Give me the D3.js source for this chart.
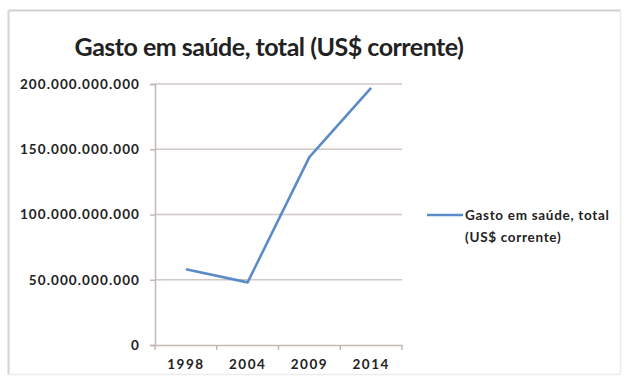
<!DOCTYPE html>
<html>
<head>
<meta charset="utf-8">
<script src="https://cdn.jsdelivr.net/npm/d3@7/dist/d3.min.js"></script>
<style>
  html, body { margin: 0; padding: 0; background: #fff; }
  svg { display: block; }
  text { font-family: Lato, "Open Sans", sans-serif; fill: #222; }
</style>
</head>
<body>
<svg id="chart" width="634" height="381"></svg>
<script>
// Health expenditure, total (current US$)
const years = ["1998", "2004", "2009", "2014"];
const spending = [58e9, 48e9, 144e9, 197e9];
const yTicks = [0, 50e9, 100e9, 150e9, 200e9];
const seriesName = ["Gasto em saúde, total", "(US$ corrente)"];
const title = "Gasto em saúde, total (US$ corrente)";

const svg = d3.select("#chart");
const plot = { left: 155, right: 402, top: 84, bottom: 345 };

// chart frame: stronger top/left edges, faint right/bottom edges
const frame = { x0: 8.5, y0: 10.5, x1: 620.5, y1: 374.5 };
svg.append("line").attr("x1", frame.x0).attr("x2", frame.x1).attr("y1", frame.y0).attr("y2", frame.y0)
  .attr("stroke", "#d3cfcd").attr("stroke-width", 2);
svg.append("line").attr("x1", frame.x0).attr("x2", frame.x0).attr("y1", frame.y0).attr("y2", frame.y1)
  .attr("stroke", "#d8d4d2").attr("stroke-width", 2);
svg.append("line").attr("x1", frame.x1).attr("x2", frame.x1).attr("y1", frame.y0).attr("y2", frame.y1)
  .attr("stroke", "#eeeceb").attr("stroke-width", 1.5);
svg.append("line").attr("x1", frame.x0).attr("x2", frame.x1).attr("y1", frame.y1).attr("y2", frame.y1)
  .attr("stroke", "#eeeceb").attr("stroke-width", 1.5);

const x = d3.scaleBand().domain(years).range([plot.left, plot.right]);
const y = d3.scaleLinear().domain([0, 200e9]).range([plot.bottom, plot.top]);

const fmt = v => d3.format(",")(v).replace(/,/g, ".");

// gridlines
svg.append("g")
  .selectAll("line")
  .data(yTicks.filter(d => d > 0))
  .join("line")
  .attr("x1", plot.left).attr("x2", plot.right)
  .attr("y1", d => y(d)).attr("y2", d => y(d))
  .attr("stroke", "#cfc8c4").attr("stroke-width", 1.5);

// y axis
const yAxis = svg.append("g")
  .attr("transform", `translate(${plot.left},0)`)
  .call(d3.axisLeft(y).tickValues(yTicks).tickFormat(fmt).tickSize(5).tickPadding(10));
yAxis.select(".domain").attr("stroke", "#c2b9b4").attr("stroke-width", 1.5);
yAxis.selectAll(".tick line").attr("stroke", "#c2b9b4").attr("stroke-width", 1.5);
yAxis.selectAll(".tick text")
  .style("font-family", "Lato, sans-serif")
  .style("font-size", "13.5px").style("font-weight", "700")
  .style("letter-spacing", "1.1px")
  .attr("fill", "#333");

// x axis with ticks at category boundaries
const xAxis = svg.append("g")
  .attr("transform", `translate(0,${plot.bottom})`)
  .call(d3.axisBottom(x).tickSize(0).tickPadding(14));
xAxis.select(".domain").attr("stroke", "#c2b9b4").attr("stroke-width", 1.5);
xAxis.selectAll(".tick text")
  .style("font-family", "Lato, sans-serif")
  .style("font-size", "13.5px").style("font-weight", "700")
  .style("letter-spacing", "1.5px")
  .attr("fill", "#333");
const bounds = years.map(d => x(d)).concat([x(years[years.length - 1]) + x.bandwidth()]);
xAxis.selectAll(".bound")
  .data(bounds)
  .join("line")
  .attr("class", "bound")
  .attr("x1", d => d).attr("x2", d => d)
  .attr("y1", 0).attr("y2", 5)
  .attr("stroke", "#c2b9b4").attr("stroke-width", 1.5);

// series line
const line = d3.line()
  .x((d, i) => x(years[i]) + x.bandwidth() / 2)
  .y(d => y(d));
svg.append("path")
  .datum(spending)
  .attr("d", line)
  .attr("fill", "none")
  .attr("stroke", "#5b8cc8")
  .attr("stroke-width", 2.6)
  .attr("stroke-linejoin", "round");

// title
svg.append("text")
  .attr("x", 269).attr("y", 56)
  .attr("text-anchor", "middle")
  .style("font-size", "25px").style("font-weight", "700")
  .style("letter-spacing", "-0.5px")
  .attr("fill", "#111")
  .text(title);

// legend
const lg = svg.append("g").attr("transform", "translate(427,215)");
lg.append("line")
  .attr("x1", 0).attr("x2", 36).attr("y1", 0).attr("y2", 0)
  .attr("stroke", "#5b8cc8").attr("stroke-width", 2.6);
lg.selectAll("text")
  .data(seriesName)
  .join("text")
  .attr("x", 38).attr("y", (d, i) => 5 + i * 22)
  .style("font-size", "13.5px").style("font-weight", "700")
  .style("letter-spacing", "0.7px")
  .attr("fill", "#333")
  .text(d => d);
</script>
</body>
</html>
